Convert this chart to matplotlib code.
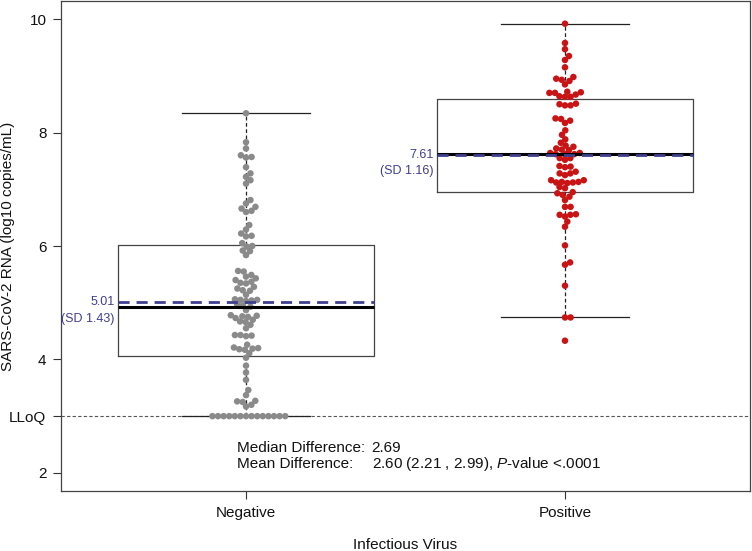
import numpy as np
import matplotlib.pyplot as plt

plt.rcParams['font.family'] = ['Liberation Sans', 'DejaVu Sans']
plt.rcParams['mathtext.fontset'] = 'custom'
plt.rcParams['mathtext.it'] = 'Liberation Sans:italic'
plt.rcParams['mathtext.rm'] = 'Liberation Sans'

# values (log10 copies/mL)
groups = ['Negative', 'Positive']
lloq = 3.0
negative = [8.34, 7.83, 7.72, 7.60, 7.57, 7.56, 7.39, 7.28, 7.22, 7.16,
            7.10, 6.81, 6.75, 6.69, 6.66, 6.62, 6.60, 6.37, 6.29, 6.22,
            6.18, 6.17, 6.05, 6.00, 5.99, 5.92, 5.91, 5.84, 5.56, 5.55,
            5.49, 5.46, 5.43, 5.40, 5.37, 5.35, 5.34, 5.28, 5.25, 5.22,
            5.21, 5.14, 5.06, 5.05, 5.05, 5.04, 5.03, 4.96, 4.95, 4.93,
            4.87, 4.78, 4.77, 4.76, 4.75, 4.73, 4.70, 4.67, 4.66, 4.61,
            4.55, 4.43, 4.43, 4.42, 4.41, 4.26, 4.21, 4.20, 4.19, 4.18,
            4.17, 4.11, 4.03, 3.89, 3.77, 3.64, 3.46, 3.37, 3.27, 3.26,
            3.25, 3.20, 3.17] + [3.0] * 14
positive = [9.92, 9.58, 9.47, 9.35, 9.28, 9.15, 8.98, 8.95, 8.93, 8.91,
            8.85, 8.72, 8.71, 8.70, 8.70, 8.67, 8.64, 8.63, 8.63, 8.51,
            8.50, 8.48, 8.48, 8.25, 8.24, 8.21, 8.17, 8.04, 7.96, 7.88,
            7.82, 7.77, 7.75, 7.72, 7.70, 7.69, 7.64, 7.64, 7.62, 7.62,
            7.62, 7.55, 7.55, 7.52, 7.41, 7.40, 7.39, 7.31, 7.28, 7.28,
            7.25, 7.16, 7.16, 7.13, 7.13, 7.12, 7.12, 7.11, 7.04, 7.02,
            6.95, 6.93, 6.90, 6.87, 6.81, 6.69, 6.69, 6.56, 6.55, 6.55,
            6.52, 6.43, 6.34, 6.01, 5.71, 5.67, 5.30, 4.74, 4.74, 4.33]

# box statistics as shown: whisker low, q1, median, q3, whisker high
box_lo = [3.00, 4.74]
box_q1 = [4.06, 6.95]
box_med = [4.93, 7.62]
box_q3 = [6.01, 8.60]
box_hi = [8.34, 9.92]
means = [5.01, 7.61]
sds = [1.43, 1.16]

median_diff = 2.69
mean_diff = 2.60
ci = (2.21, 2.99)

dot_colors = ['#8a8a8a', '#c81414']
mean_color = '#3f3f8f'


def swarm(vals, d_px, ppx, ppy):
    vals = np.asarray(vals)
    order = np.argsort(vals, kind='stable')
    placed = []
    offs = np.zeros(len(vals))
    for i in order:
        y = vals[i] * ppy
        cands = [0.0]
        for xj, yj in placed:
            dy = y - yj
            if abs(dy) < d_px:
                dx = np.sqrt(d_px ** 2 - dy ** 2)
                cands += [xj + dx, xj - dx]
        cands = sorted(cands, key=abs)
        for c in cands:
            if all((c - xj) ** 2 + (y - yj) ** 2 >= d_px ** 2 - 1e-6 for xj, yj in placed):
                break
        placed.append((c, y))
        offs[i] = c / ppx
    return offs


fig = plt.figure(figsize=(7.52, 5.51), dpi=100)
ax = fig.add_axes([61 / 752, 60 / 551, 689 / 752, 490 / 551])
ax.set_xlim(0.42, 2.58)
ax.set_ylim(1.68, 10.32)

stats = []
for i in range(2):
    stats.append(dict(whislo=box_lo[i], q1=box_q1[i], med=box_med[i],
                      q3=box_q3[i], whishi=box_hi[i], mean=means[i]))
ax.bxp(stats, positions=[1, 2], widths=0.8, capwidths=0.4,
       showfliers=False, showmeans=True, meanline=True,
       boxprops=dict(color='#444444', lw=0.9),
       whiskerprops=dict(color='#222222', lw=0.9, ls=(0, (3, 2))),
       capprops=dict(color='#222222', lw=0.9),
       medianprops=dict(color='black', lw=2.2, zorder=4),
       meanprops=dict(color=mean_color, lw=2.0, ls=(0, (4, 2.5)), zorder=5))

ax.axhline(lloq, color='#555555', lw=0.8, ls=(0, (3, 2)), zorder=1)

# pixel scale for the swarm layout
bb = ax.get_window_extent()
ppx = bb.width / (ax.get_xlim()[1] - ax.get_xlim()[0])
ppy = bb.height / (ax.get_ylim()[1] - ax.get_ylim()[0])
for i, vals in enumerate([negative, positive]):
    offs = swarm(vals, 5.6, ppx, ppy)
    ax.scatter(i + 1 + offs, vals, s=22, color=dot_colors[i], edgecolors='none', zorder=3)

for i in range(2):
    xl = i + 1 - 0.4 - 0.012
    ax.text(xl, means[i], f'{means[i]:.2f}', ha='right', va='center',
            color=mean_color, fontsize=9)
    ax.text(xl, means[i] - 0.29, f'(SD {sds[i]:.2f})', ha='right', va='center',
            color=mean_color, fontsize=9)

ax.text(0.971, 2.44, 'Median Difference:', fontsize=11, va='center', color='#111111')
ax.text(0.971, 2.16, 'Mean Difference:', fontsize=11, va='center', color='#111111')
ax.text(1.394, 2.44, f'{median_diff:.2f}', fontsize=11, va='center', color='#111111')
ax.text(1.394, 2.16, f'{mean_diff:.2f} ({ci[0]:.2f} , {ci[1]:.2f}), $\\it{{P}}$-value <.0001',
        fontsize=11, va='center', color='#111111')

ax.set_xticks([1, 2])
ax.set_xticklabels(groups)
ax.set_yticks([2, lloq, 4, 6, 8, 10])
ax.set_yticklabels(['2', 'LLoQ', '4', '6', '8', '10'])
ax.tick_params(labelsize=11, length=5.5, width=0.8, pad=5, colors='#333333', labelcolor='#111111')
for s in ax.spines.values():
    s.set_color('#444444')
    s.set_linewidth(0.9)

ax.set_xlabel('Infectious Virus', fontsize=11, color='#111111')
ax.xaxis.set_label_coords(0.5, -0.110)
ax.xaxis.label.set_va('center')
ax.set_ylabel('SARS-CoV-2 RNA (log10 copies/mL)', fontsize=11, color='#111111')
ax.yaxis.set_label_coords(-0.077, 0.5)
ax.yaxis.label.set_va('center')

fig.savefig('out.png', dpi=100)
